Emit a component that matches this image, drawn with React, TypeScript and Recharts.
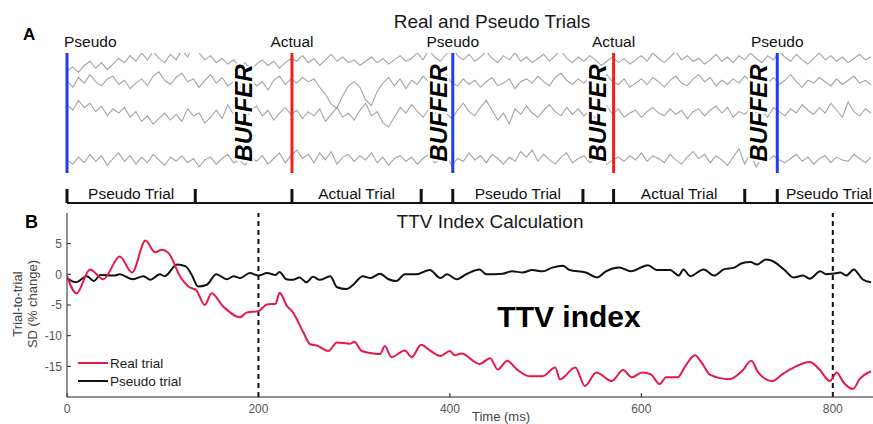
import React from 'react';
import { LineChart, Line, XAxis, YAxis, ReferenceLine, Legend } from 'recharts';

const FONT = '"Liberation Sans", Arial, Helvetica, sans-serif';

// ---- panel B: TTV index calculation (ms, % change) ----
const REAL_T = [0, 10, 24, 38, 55, 68, 82, 92, 99, 106, 118, 128, 135, 144, 151, 163, 181, 188, 200, 209, 218, 222, 230, 236, 247, 254, 261, 273, 282, 296, 300, 308, 320, 327, 332, 339, 353, 360, 370, 379, 390, 400, 405, 412, 431, 442, 450, 460, 470, 483, 497, 510, 515, 531, 541, 553, 569, 581, 590, 601, 610, 619, 626, 638, 645, 656, 663, 672, 692, 705, 715, 722, 737, 747, 759, 776, 786, 797, 804, 811, 821, 828, 840];
const REAL_V = [-0.3, -3.1, 0.8, -0.8, 2.9, 0.3, 5.5, 3.6, 4.0, 3.5, -0.3, -2.1, -2.6, -5.0, -3.1, -5.2, -7.0, -6.2, -6.0, -4.9, -4.8, -3.0, -5.2, -6.2, -9.5, -11.4, -11.6, -12.5, -11.1, -11.3, -11.0, -12.5, -12.9, -13.0, -11.7, -13.5, -12.4, -13.5, -11.5, -12.4, -13.3, -12.5, -13.2, -12.9, -14.6, -13.7, -15.5, -14.1, -15.5, -16.6, -16.6, -15.2, -17.1, -15.2, -18.2, -16.0, -17.4, -15.6, -16.8, -16.0, -16.3, -17.9, -16.8, -16.8, -15.2, -13.2, -14.4, -16.4, -17.1, -15.8, -14.1, -16.0, -17.4, -16.3, -15.2, -14.3, -15.5, -17.4, -16.0, -17.6, -18.7, -17.1, -15.8];
const PSEUDO_T = [0, 9, 21, 28, 35, 49, 55, 69, 80, 87, 97, 102, 115, 124, 130, 137, 146, 156, 167, 174, 181, 191, 200, 209, 218, 222, 229, 236, 243, 250, 257, 264, 275, 282, 292, 299, 309, 317, 327, 336, 344, 353, 365, 379, 390, 397, 407, 418, 431, 438, 455, 465, 476, 486, 497, 507, 518, 525, 542, 554, 563, 577, 589, 607, 616, 630, 639, 644, 651, 665, 676, 686, 697, 705, 714, 721, 730, 735, 749, 759, 769, 776, 787, 793, 800, 808, 814, 822, 831, 840];
const PSEUDO_V = [-0.6, -1.3, -0.3, -1.1, -0.1, -0.2, 0, -0.8, -0.3, -0.9, 0, -0.3, 1.6, 1.3, 0, -2.0, -1.7, 0, -0.8, -0.3, -0.6, 0.2, -0.2, 0.2, -0.1, 0.4, -0.8, -0.9, -0.5, -1.3, -0.4, -0.9, -0.3, -2.1, -2.4, -1.7, -0.3, -0.6, 0.1, -0.8, -1.1, 0, 0, 0.7, -0.6, 0, -0.8, 0.1, 0.8, 0, 0.1, 0.5, 0.3, 0.7, 0.5, 1.1, 1.4, 0.7, 0.3, -0.5, 0.5, 1.1, 0.5, 1.5, 0.7, 0.7, -0.2, 0.8, -0.3, 0.8, -0.2, 0.8, 1.1, 1.8, 2.0, 1.6, 2.4, 2.3, 0.8, -0.5, -0.2, -0.7, 0.5, 0, 0.1, 0.3, -0.2, 0.8, -0.8, -1.3];
const X_TICKS = [0, 200, 400, 600, 800];
const Y_TICKS = [-15, -10, -5, 0, 5];
const WINDOW_EDGES = [200, 800];

// ---- panel A: raw single trials (arbitrary units, sampled every TRACE_STEP ms) ----
const TRACE_STEP = 6;
const TRACE_1 = [
  -5, -2, -6, -1, 2, -3, 1, -4, 0, 4,
  1, 6, 2, 8, 3, 9, 4, 1, 7, 3,
  10, 5, 14, 8, 3, 6, 1, 4, 0, 3,
  -2, 1, -4, 0, 3, -1, 2, -3, 1, 4,
  2, 6, 1, 4, -1, 3, 7, 2, 5, 1,
  3, -1, 2, 5, 1, 4, 0, 3, 6, 2,
  4, 8, 3, 10, 5, 2, 7, 12, 6, 3,
  7, 2, 5, 9, 4, 1, 6, 3, 8, 2,
  5, 1, 4, 7, 2, 6, 10, 4, 1, 5,
  2, 6, 3, -1, 2, 5, 1, 4, 0, 3,
  6, 2, 8, 4, 1, 5, 9, 3, 6, 2,
  4, 0, 3, 7, 2, 5, 1, 6, 3, 8,
  4, 1, 6, 3, 9, 5, 2, 7, 3, 0,
  4, 8, 3, 6, 2, 5, 1, 4, 7, 3, 5,
];
const TRACE_2 = [
  2, -3, 4, 0, 6, 1, -2, 3, 5, -1,
  2, -4, 0, 3, -2, 5, 8, 2, -1, 4,
  7, 1, 3, -3, 2, 6, 0, 4, -2, 1,
  -4, 0, 3, -2, 1, -5, 2, 5, -1, 3,
  0, 4, 1, 3, -3, -8, -15, -18, -9, -2,
  1, -3, -12, -16, -6, 0, 4, -2, 3, -4,
  2, -1, 5, 1, -3, 2, 6, 0, -2, 3,
  -1, 2, -3, 1, 4, -2, 0, 3, -4, 1,
  3, 0, 5, 1, -2, 4, 7, 2, -1, 3,
  0, 4, -2, 2, 6, 1, -1, 3, -3, 0,
  3, -1, 4, 1, -3, 2, 5, 0, -2, 3,
  6, 1, 4, -2, 2, -1, 3, 0, 5, 1,
  -2, 3, 0, 4, -1, 2, 6, 1, -3, 2,
  0, 4, 1, -2, 3, -1, 2, 5, 0, 2, -1,
];
const TRACE_3 = [
  6, 2, 9, 4, 7, 1, 5, -2, 3, 0,
  4, -3, 1, -6, -2, -8, -4, 0, -5, -1,
  -6, 3, -2, 0, -7, -3, 2, -4, 6, -1,
  3, -3, 1, 5, -2, 2, -5, 0, 4, -1,
  2, -4, 1, -2, 3, -6, -1, 4, -3, 0,
  -5, 2, 7, -2, 1, -7, -10, -3, 4, 0,
  6, 1, -3, 3, -1, 5, 0, -4, 2, 7,
  1, -2, 4, 9, 2, -5, 0, -8, 3, -1,
  5, 0, -3, 2, 6, 1, -2, 4, -1, 3,
  -2, 2, -4, 1, 5, -1, 3, -3, 0, 2,
  -3, 1, 4, 0, -2, 3, -1, 2, -4, 1,
  3, -2, 2, 5, 0, 4, -3, 1, -1, 3,
  0, 2, -3, 4, 1, -2, 3, 0, 6, 2,
  -1, 4, 0, 7, 2, -3, 8, 1, -2, 3, 0,
];
const TRACE_4 = [
  0, -3, 2, -2, 4, -1, 3, -4, 1, 5,
  -1, 3, -3, 2, -2, 4, 0, -4, 2, -1,
  3, -2, 1, -5, 0, 2, -3, 1, 4, -2,
  0, -4, 2, -1, 3, -3, 1, 5, -2, 3,
  7, 1, 4, -2, 5, 0, 6, -3, 2, 4,
  -1, 3, 0, 5, -2, 2, -4, 1, 3, -1,
  2, -3, 1, 4, -2, 0, 3, -4, 1, -1,
  5, 0, 3, -2, 4, 1, -3, 2, -1, 6,
  2, 7, -1, 4, 0, -3, 2, 5, -2, 1,
  3, -2, 1, 4, -3, 0, 2, -1, 3, 0,
  5, -1, 3, 1, -2, 4, 0, -3, 2, 6,
  1, 4, -2, 3, 0, -4, 2, 8, -3, 5,
  -5, 2, -1, 3, 0, -2, 1, 4, -1, 2,
  -3, 1, 3, -2, 2, 0, -1, 4, 1, -2, 2,
];

const MARKERS = [
  { t: 0, label: 'Pseudo', color: '#1f3df2' },
  { t: 235, label: 'Actual', color: '#f2201c' },
  { t: 403, label: 'Pseudo', color: '#1f3df2' },
  { t: 571, label: 'Actual', color: '#f2201c' },
  { t: 742, label: 'Pseudo', color: '#1f3df2' },
];
const BUFFERS = [184, 388, 554, 722];
const BRACKET_TICKS = [0, 134, 235, 370, 403, 539, 571, 708, 742];
const TRIALS = [
  { from: 0, to: 134, label: 'Pseudo Trial' },
  { from: 235, to: 370, label: 'Actual Trial' },
  { from: 403, to: 539, label: 'Pseudo Trial' },
  { from: 571, to: 708, label: 'Actual Trial' },
  { from: 742, to: 850, label: 'Pseudo Trial' },
];

const traceData = TRACE_1.map((v, i) => ({
  t: i * TRACE_STEP,
  a: v,
  b: TRACE_2[i],
  c: TRACE_3[i],
  d: TRACE_4[i],
}));
const realData = REAL_T.map((t, i) => ({ t, v: REAL_V[i] }));
const pseudoData = PSEUDO_T.map((t, i) => ({ t, v: PSEUDO_V[i] }));

const txt = (size: number, extra: React.CSSProperties = {}): React.CSSProperties => ({
  position: 'absolute',
  fontFamily: FONT,
  fontSize: size,
  lineHeight: 1,
  whiteSpace: 'nowrap',
  color: '#1a1a1a',
  ...extra,
});

const markerLabel = (text: string, first: boolean) => (p: any) => {
  const vb = p.viewBox || {};
  return (
    <text
      x={first ? vb.x - 3 : vb.x}
      y={vb.y - 6}
      textAnchor={first ? 'start' : 'middle'}
      fontSize={15.5}
      fontFamily={FONT}
      fill="#111"
    >
      {text}
    </text>
  );
};

const bufferLabel = (p: any) => {
  const vb = p.viewBox || {};
  const cx = vb.x;
  const cy = vb.y + (vb.height || 0) / 2;
  return (
    <text
      x={cx}
      y={cy}
      transform={`rotate(-90 ${cx} ${cy})`}
      textAnchor="middle"
      dominantBaseline="central"
      fontSize={24}
      fontWeight="bold"
      fontStyle="italic"
      fontFamily={FONT}
      fill="#000"
      stroke="#fff"
      strokeWidth={4}
      paintOrder="stroke"
    >
      BUFFER
    </text>
  );
};

const trialLabel = (text: string) => (p: any) => {
  const vb = p.viewBox || {};
  return (
    <text
      x={vb.x + (vb.width || 0) / 2}
      y={vb.y}
      textAnchor="middle"
      dominantBaseline="central"
      fontSize={15.5}
      fontFamily={FONT}
      fill="#111"
    >
      {text}
    </text>
  );
};

const LegendBox = () => (
  <div style={{ fontFamily: FONT, fontSize: 13.5, color: '#1a1a1a' }}>
    {[
      { name: 'Real trial', color: '#e8174a' },
      { name: 'Pseudo trial', color: '#111' },
    ].map((it) => (
      <div key={it.name} style={{ display: 'flex', alignItems: 'center', height: 18 }}>
        <svg width={34} height={18}>
          <line x1={2} y1={9} x2={32} y2={9} stroke={it.color} strokeWidth={2} />
        </svg>
        <span>{it.name}</span>
      </div>
    ))}
  </div>
);

export default function App() {
  return (
    <div style={{ position: 'absolute', left: 0, top: 0, width: 873, height: 424, background: '#fff', overflow: 'hidden' }}>
      {/* panel A */}
      <div style={{ position: 'absolute', left: 0, top: 0 }}>
        <LineChart width={873} height={210} data={traceData} margin={{ top: 53, right: 0, bottom: 6, left: 67 }}>
          <XAxis type="number" dataKey="t" domain={[0, 842]} allowDataOverflow hide />
          <YAxis yAxisId="a" hide domain={[-100, 7.9]} allowDataOverflow />
          <YAxis yAxisId="b" hide domain={[-86.4, 21.5]} allowDataOverflow />
          <YAxis yAxisId="c" hide domain={[-65, 42.9]} allowDataOverflow />
          <YAxis yAxisId="d" hide domain={[-31.5, 76.4]} allowDataOverflow />
          <YAxis yAxisId="ann" hide domain={[0, 151]} allowDataOverflow />
          {['a', 'b', 'c', 'd'].map((k) => (
            <Line
              key={k}
              yAxisId={k}
              dataKey={k}
              type="linear"
              stroke="#a3a3a3"
              strokeWidth={1.1}
              dot={false}
              isAnimationActive={false}
            />
          ))}
          {BUFFERS.map((t) => (
            <ReferenceLine
              key={'buf' + t}
              yAxisId="ann"
              segment={[{ x: t, y: 31 }, { x: t, y: 151 }]}
              stroke="none"
              label={bufferLabel}
            />
          ))}
          {MARKERS.map((m, i) => (
            <ReferenceLine
              key={'m' + m.t}
              yAxisId="ann"
              segment={[{ x: m.t, y: 31 }, { x: m.t, y: 151 }]}
              stroke={m.color}
              strokeWidth={3}
              label={markerLabel(m.label, i === 0)}
            />
          ))}
          <ReferenceLine yAxisId="ann" y={1} stroke="#111" strokeWidth={2} />
          {BRACKET_TICKS.map((t) => (
            <ReferenceLine
              key={'bt' + t}
              yAxisId="ann"
              segment={[{ x: t, y: 1 }, { x: t, y: 15 }]}
              stroke="#111"
              strokeWidth={3}
            />
          ))}
          {TRIALS.map((tr) => (
            <ReferenceLine
              key={'tr' + tr.from}
              yAxisId="ann"
              ifOverflow="visible"
              segment={[{ x: tr.from, y: 11 }, { x: tr.to, y: 11 }]}
              stroke="none"
              label={trialLabel(tr.label)}
            />
          ))}
        </LineChart>
      </div>

      {/* panel B */}
      <div style={{ position: 'absolute', left: 0, top: 200 }}>
        <LineChart width={873} height={224} margin={{ top: 13, right: 0, bottom: 2, left: 0 }}>
          <XAxis
            type="number"
            dataKey="t"
            domain={[0, 842]}
            allowDataOverflow
            ticks={X_TICKS}
            height={25}
            tickSize={-4}
            tickMargin={11}
            axisLine={{ stroke: '#222' }}
            tickLine={{ stroke: '#222' }}
            tick={{ fill: '#555', fontSize: 12, fontFamily: FONT }}
            label={{ value: 'Time (ms)', position: 'insideBottom', offset: 1, dx: 31, fill: '#444', fontSize: 13, fontFamily: FONT }}
          />
          <YAxis
            type="number"
            domain={[-20, 10]}
            allowDataOverflow
            ticks={Y_TICKS}
            width={67}
            tickSize={-4}
            tickMargin={9}
            axisLine={{ stroke: '#222' }}
            tickLine={{ stroke: '#222' }}
            tick={{ fill: '#555', fontSize: 12, fontFamily: FONT }}
          />
          {WINDOW_EDGES.map((x) => (
            <ReferenceLine key={x} x={x} stroke="#111" strokeWidth={2} strokeDasharray="5 4" />
          ))}
          <Line data={pseudoData} dataKey="v" name="Pseudo trial" type="monotone" stroke="#111" strokeWidth={2} dot={false} isAnimationActive={false} />
          <Line data={realData} dataKey="v" name="Real trial" type="monotone" stroke="#e8174a" strokeWidth={2} dot={false} isAnimationActive={false} />
          <Legend
            layout="vertical"
            align="center"
            verticalAlign="middle"
            wrapperStyle={{ left: 76, top: 154, width: 150 }}
            content={() => <LegendBox />}
          />
        </LineChart>
      </div>

      {/* titles and panel letters */}
      <div style={txt(17, { left: 23, top: 26, fontWeight: 'bold', color: '#000' })}>A</div>
      <div style={txt(18, { left: 25, top: 213, fontWeight: 'bold', color: '#000' })}>B</div>
      <div style={txt(19, { left: 342, width: 300, top: 12, textAlign: 'center' })}>Real and Pseudo Trials</div>
      <div style={txt(19, { left: 340, width: 300, top: 212, textAlign: 'center' })}>TTV Index Calculation</div>
      <div style={txt(30, { left: 469, width: 200, top: 302, textAlign: 'center', fontWeight: 'bold', color: '#000' })}>TTV index</div>
      <div
        style={txt(13, {
          left: -35,
          top: 289,
          width: 120,
          height: 30,
          lineHeight: '15px',
          textAlign: 'center',
          color: '#444',
          transform: 'rotate(-90deg)',
        })}
      >
        Trial-to-trial
        <br />
        SD (% change)
      </div>
    </div>
  );
}
